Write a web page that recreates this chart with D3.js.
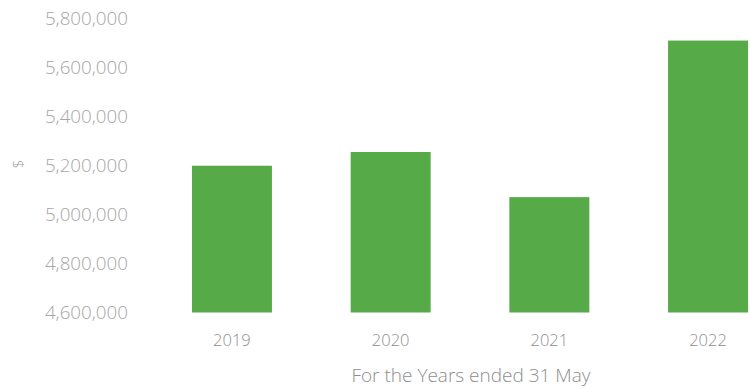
<!DOCTYPE html>
<html>
<head>
<meta charset="utf-8">
<script src="https://cdn.jsdelivr.net/npm/d3@7"></script>
<style>
  html, body { margin: 0; padding: 0; background: #ffffff; }
  svg { display: block; }
  text { font-family: "Open Sans", "Noto Sans", sans-serif; }
</style>
</head>
<body>
<div id="chart"></div>
<script>
// Annual totals, years ended 31 May
const years = ["2019", "2020", "2021", "2022"];
const totals = [5198000, 5254000, 5070000, 5708000];
const yTicks = [4600000, 4800000, 5000000, 5200000, 5400000, 5600000, 5800000];
const yAxisLabel = "$";
const xAxisTitle = "For the Years ended 31 May";

const width = 750, height = 389;

const svg = d3.select("#chart").append("svg")
  .attr("width", width)
  .attr("height", height);

const x = d3.scaleBand()
  .domain(years)
  .range([152.6, 787.4])
  .paddingInner(0.496)
  .paddingOuter(0.248);

const y = d3.scaleLinear()
  .domain([4600000, 5800000])
  .range([312.5, 18]);

// Value axis (labels only, no line or ticks)
const yAxis = d3.axisLeft(y)
  .tickValues(yTicks)
  .tickFormat(d3.format(","))
  .tickSize(0)
  .tickPadding(0);

svg.append("g")
  .attr("transform", "translate(128,0)")
  .call(yAxis)
  .call(g => g.select(".domain").remove())
  .call(g => g.selectAll("text")
    .attr("font-family", "'Open Sans', sans-serif")
    .attr("font-size", 18.8)
    .attr("font-weight", 300)
    .attr("fill", "#a6a6a6"));

// Bars
svg.append("g")
  .selectAll("rect")
  .data(years.map((yr, i) => ({ yr, v: totals[i] })))
  .join("rect")
  .attr("x", d => x(d.yr))
  .attr("width", x.bandwidth())
  .attr("y", d => y(d.v))
  .attr("height", d => y(4600000) - y(d.v))
  .attr("fill", "#56aa48");

// Category axis (labels only)
const xAxis = d3.axisBottom(x).tickSize(0).tickPadding(0);
svg.append("g")
  .attr("transform", "translate(0,334)")
  .call(xAxis)
  .call(g => g.select(".domain").remove())
  .call(g => g.selectAll("text")
    .attr("font-family", "'Open Sans', sans-serif")
    .attr("font-size", 16.5)
    .attr("font-weight", 300)
    .attr("fill", "#8e8e8e"));

// Axis titles
svg.append("text")
  .attr("x", 471)
  .attr("y", 382)
  .attr("text-anchor", "middle")
  .attr("font-size", 19)
  .attr("font-weight", 300)
  .attr("fill", "#8e8e8e")
  .text(xAxisTitle);

svg.append("text")
  .attr("transform", "translate(24,164) rotate(-90)")
  .attr("text-anchor", "middle")
  .attr("font-size", 15)
  .attr("font-weight", 300)
  .attr("fill", "#9a9a9a")
  .text(yAxisLabel);
</script>
</body>
</html>
